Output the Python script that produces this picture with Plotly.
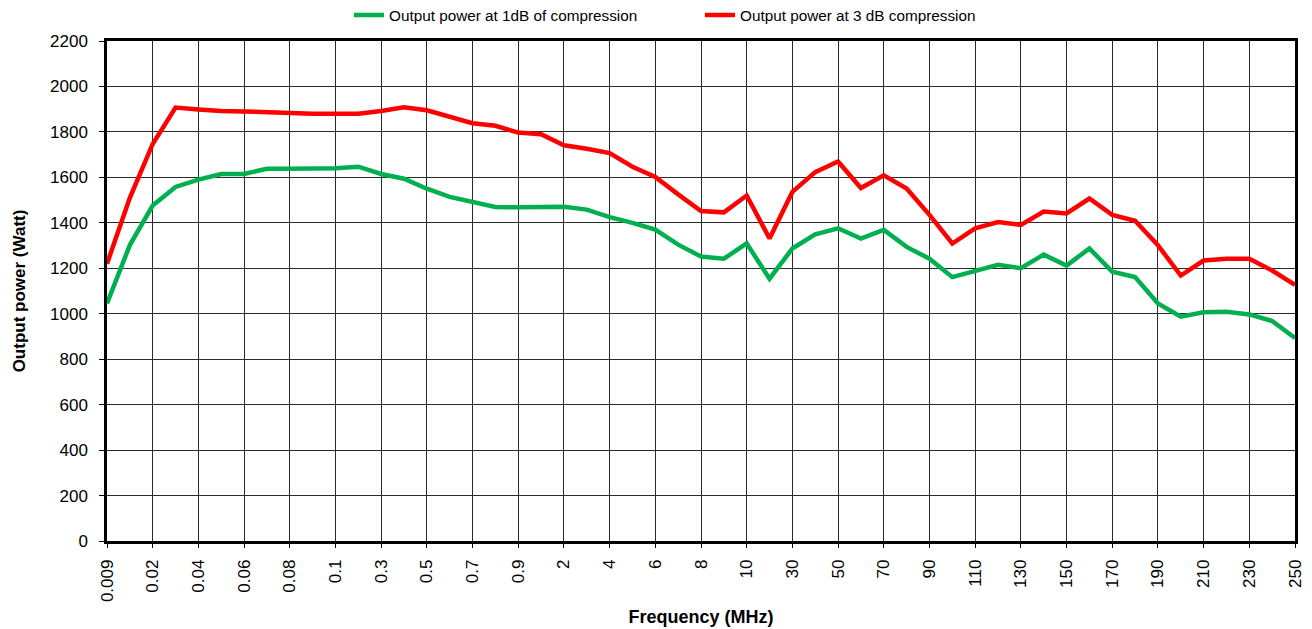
import plotly.graph_objects as go

frequencies = ["0.009", "0.01", "0.02", "0.03", "0.04", "0.05", "0.06", "0.07", "0.08", "0.09",
               "0.1", "0.2", "0.3", "0.4", "0.5", "0.6", "0.7", "0.8", "0.9",
               "1", "2", "3", "4", "5", "6", "7", "8", "9",
               "10", "20", "30", "40", "50", "60", "70", "80", "90",
               "100", "110", "120", "130", "140", "150", "160", "170", "180", "190",
               "200", "210", "220", "230", "240", "250"]

power_1db = [1045, 1302, 1476, 1558, 1590, 1615, 1615, 1638, 1638, 1640,
             1640, 1647, 1615, 1594, 1550, 1514, 1491, 1470, 1468,
             1468, 1471, 1458, 1425, 1400, 1370, 1304, 1252, 1242,
             1309, 1154, 1287, 1349, 1376, 1331, 1369, 1294, 1242,
             1161, 1190, 1215, 1200, 1260, 1212, 1287, 1185, 1161, 1045,
             987, 1006, 1009, 997, 968, 893]

power_3db = [1220, 1510, 1747, 1907, 1899, 1892, 1890, 1886, 1883, 1880,
             1880, 1880, 1892, 1908, 1895, 1865, 1838, 1827, 1797,
             1790, 1741, 1726, 1707, 1647, 1602, 1525, 1452, 1446,
             1520, 1331, 1536, 1623, 1670, 1553, 1609, 1551, 1435,
             1309, 1376, 1403, 1391, 1450, 1441, 1507, 1435, 1409, 1301,
             1168, 1234, 1242, 1242, 1190, 1127]

tick_labels = frequencies[::2]
y_ticks = list(range(0, 2201, 200))

FONT = "Liberation Sans, Arial, sans-serif"

fig = go.Figure()
fig.add_trace(go.Scatter(x=frequencies, y=power_1db, mode="lines",
                         name="Output power at 1dB of compression",
                         line=dict(color="#00B050", width=4.5)))
fig.add_trace(go.Scatter(x=frequencies, y=power_3db, mode="lines",
                         name="Output power at 3 dB compression",
                         line=dict(color="#FF0000", width=4.5)))

fig.update_layout(
    width=1312, height=629,
    margin=dict(l=107, r=17, t=41, b=88),
    paper_bgcolor="white", plot_bgcolor="white",
    font=dict(family=FONT, color="#000000"),
    showlegend=True,
    legend=dict(orientation="h", x=0.2037, xanchor="left",
                yref="container", y=1 - 15 / 629, yanchor="middle",
                font=dict(size=15.3, family=FONT), entrywidth=306, entrywidthmode="pixels",
                bgcolor="rgba(0,0,0,0)"),
    xaxis=dict(type="category", range=[0, len(frequencies) - 1],
               tickmode="array", tickvals=tick_labels, ticktext=tick_labels,
               tickangle=-90, tickfont=dict(size=17, family=FONT), ticklabelstandoff=5,
               showgrid=True, gridcolor="#2a2a2a", gridwidth=1.4,
               showline=True, linecolor="#000000", linewidth=2.5, mirror=True,
               ticks="outside", ticklen=4, tickcolor="#000000",
               title=dict(text="<b>Frequency (MHz)</b>", font=dict(size=18, family=FONT), standoff=10),
               zeroline=False, automargin=False),
    yaxis=dict(range=[0, 2200], tickmode="array", tickvals=y_ticks,
               tickfont=dict(size=17, family=FONT), ticklabelstandoff=8,
               showgrid=True, gridcolor="#2a2a2a", gridwidth=1.4,
               showline=True, linecolor="#000000", linewidth=2.5, mirror=True,
               ticks="outside", ticklen=5, tickcolor="#000000",
               title=dict(text="<b>Output power (Watt)</b>", font=dict(size=17, family=FONT), standoff=21),
               zeroline=False, automargin=False),
)

fig.write_html("out.html", config={"displayModeBar": False},
               post_script="document.body.style.margin='0';")
